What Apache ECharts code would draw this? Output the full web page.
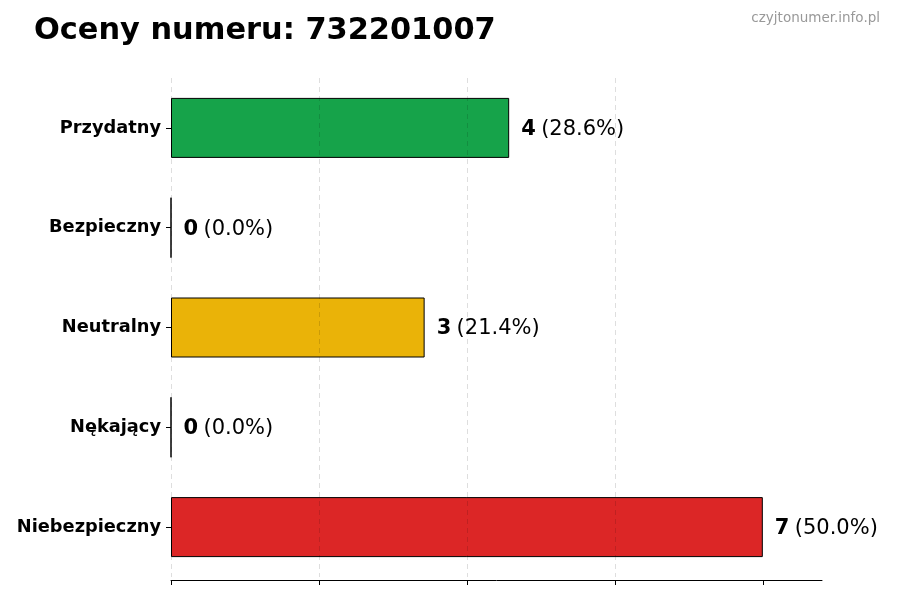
<!DOCTYPE html>
<html>
<head>
<meta charset="utf-8">
<script src="https://cdn.jsdelivr.net/npm/echarts@6/dist/echarts.min.js"></script>
<style>html,body{margin:0;padding:0;background:#fff}#c{width:900px;height:600px}</style>
</head>
<body>
<div id="c"></div>
<script>
const categories = ["Przydatny", "Bezpieczny", "Neutralny", "Nękający", "Niebezpieczny"];
const counts = [4, 0, 3, 0, 7];
const percents = ["28.6%", "0.0%", "21.4%", "0.0%", "50.0%"];
const colors = ["#16a34a", "#16a34a", "#eab308", "#dc2626", "#dc2626"];
const tickValues = [0, 1.75, 3.5, 5.25, 7];

const chart = echarts.init(document.getElementById('c'));
const F = 'DejaVu Sans';
chart.setOption({
  animation: false,
  backgroundColor: '#fff',
  title: [{
    text: 'Oceny numeru: 732201007',
    left: 29, top: 11,
    textStyle: { fontFamily: F, fontSize: 30.4, fontWeight: 'bold', color: '#000' }
  }, {
    text: 'czyjtonumer.info.pl',
    right: 15, top: 6,
    textStyle: { fontFamily: F, fontSize: 13.5, fontWeight: 'normal', color: '#999' }
  }],
  grid: { left: 171, right: 78, top: 78, bottom: 23, containLabel: false },
  xAxis: {
    type: 'value', min: 0, max: 7.7, interval: 1.75, z: 5, offset: 3,
    axisLine: { show: true, lineStyle: { color: '#000', width: 1 } },
    axisTick: { show: true, length: 5, lineStyle: { color: '#000' }, customValues: tickValues },
    axisLabel: { show: false },
    splitLine: { show: true, showMaxLine: false, lineStyle: { type: [5, 4], color: 'rgba(0,0,0,0.13)', width: 1 } }
  },
  yAxis: {
    type: 'category', data: categories, inverse: true,
    axisLine: { show: false },
    axisTick: { show: true, alignWithLabel: true, length: 5, lineStyle: { color: '#000' } },
    axisLabel: { fontFamily: F, fontSize: 17.8, fontWeight: 'bold', color: '#000', margin: 10, padding: [3, 0, 0, 0] },
    splitLine: { show: false }
  },
  series: [{
    type: 'bar',
    barWidth: 60,
    data: counts.map((v, i) => ({ value: v, itemStyle: { color: colors[i] } })),
    itemStyle: { borderColor: '#000', borderWidth: 1 },
    label: {
      show: true, position: 'right', distance: 12, offset: [0, 1.5],
      formatter: p => '{b|' + p.value + '} {n|(' + percents[p.dataIndex] + ')}',
      rich: {
        b: { fontFamily: F, fontSize: 21, fontWeight: 'bold', color: '#000', padding: [0, 2, 0, 0] },
        n: { fontFamily: F, fontSize: 21, color: '#000' }
      }
    }
  }]
});
</script>
</body>
</html>
